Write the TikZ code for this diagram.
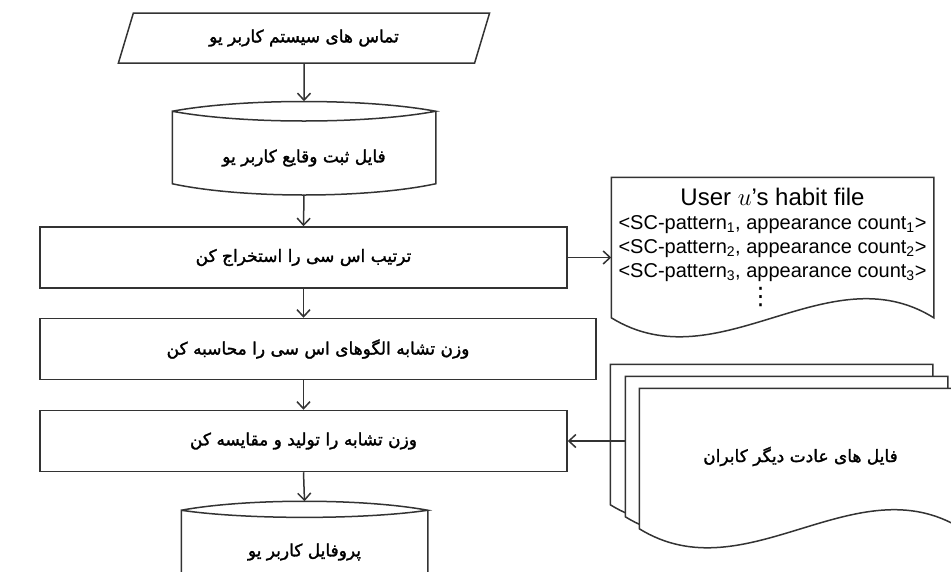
\documentclass[tikz,border=0pt]{standalone}
\usepackage{fontspec}
\setmainfont{Liberation Sans}
\newfontfamily\farsi[Script=Arabic,FakeBold=1.6]{DejaVu Sans}
\newfontfamily\symb{DejaVu Sans}
\TeXXeTstate=1
\usetikzlibrary{shapes,arrows.meta,positioning,calc,backgrounds}
\newcommand{\fa}[1]{{\farsi\beginR #1\endR}}
\newcommand{\docoutline}[1]{(#1.north west) -- (#1.south west)
  .. controls +(107,-66) and +(-106,66) .. (#1.south east)
  -- (#1.north east) -- cycle}

\begin{document}
\begin{tikzpicture}
[x=1pt,y=1pt,line width=1.5pt,
    ln/.style={draw=black!80,line width=1.5pt},
    proc/.style={ln,shape=rectangle,minimum height=61pt,inner sep=0pt,
    font=\fontsize{17}{20}\selectfont},
    store/.style={minimum width=262pt,minimum height=72pt,inner sep=0pt,
    font=\fontsize{17}{20}\selectfont},
    io/.style={ln,trapezium,trapezium left angle=64,trapezium right angle=116,
    trapezium stretches=true,minimum width=372pt,minimum height=50pt,
    inner sep=0pt,font=\fontsize{17}{20}\selectfont},
    docbox/.style={minimum width=321pt,minimum height=139pt,inner sep=0pt},
    myarrow/.style={ln,-{Straight Barb[length=7pt,width=13pt]}}]
\useasboundingbox (0,0) rectangle (951,-571);
%%%%%%%%%%
%% flow nodes
\node (contact) [io] at (304,-38) {\fa{تماس های سیستم کاربر یو}};
\node (log) [store] at (304,-158) {\fa{فایل ثبت وقایع کاربر یو}};
\node (extract) [proc,minimum width=527pt] at (303.5,-257.5)
  {\fa{ترتیب اس سی را استخراج کن}};
\node (weight) [proc,minimum width=556pt] at (318,-349)
  {\fa{وزن تشابه  الگوهای  اس سی را محاسبه کن}};
\node (compare) [proc,minimum width=527pt] at (303.5,-441)
  {\fa{وزن تشابه را تولید و مقایسه کن}};
\node (profile) [store,minimum width=245pt,minimum height=68pt] at (304.5,-552)
  {\fa{پروفایل کاربر یو}};
%% files
\node (habit) [docbox,align=center,font=\fontsize{20}{24}\selectfont]
  at (772.5,-247.5) {{\fontsize{24}{28}\selectfont User $u$’s habit file}\\
  <SC-pattern\textsubscript{1}, appearance count\textsubscript{1}>\\
  <SC-pattern\textsubscript{2}, appearance count\textsubscript{2}>\\
  <SC-pattern\textsubscript{3}, appearance count\textsubscript{3}>\\[3pt]
  {\symb\fontsize{24}{24}\selectfont ⋮}\hspace*{24pt}};
\node (other3) [docbox] at (771.5,-434.5) {};
\node (other2) [docbox] at (786.5,-446.5) {};
\node (others) [docbox,font=\fontsize{17}{20}\selectfont] at (800.5,-456.5)
  {\fa{فایل های عادت دیگر کابران}};
%% outlines
\draw[ln] ([yshift=10pt]log.north west) .. controls +(70,13) and +(-70,13) ..
  ([yshift=10pt]log.north east) .. controls +(-70,-13) and +(70,-13) ..
  ([yshift=10pt]log.north west) -- ([yshift=11pt]log.south west)
  .. controls +(70,-15) and +(-70,-15) .. ([yshift=11pt]log.south east)
  -- ([yshift=10pt]log.north east);
\draw[ln] ([yshift=7pt]profile.north west) .. controls +(65,12) and +(-65,12) ..
  ([yshift=7pt]profile.north east) .. controls +(-65,-9.5) and +(65,-9.5) ..
  ([yshift=7pt]profile.north west) -- ([yshift=11pt]profile.south west)
  .. controls +(65,-15) and +(-65,-15) .. ([yshift=11pt]profile.south east)
  -- ([yshift=7pt]profile.north east);
\draw[ln] \docoutline{habit};
\begin{scope}[on background layer]
\draw[ln,fill=white] \docoutline{other3};
\draw[ln,fill=white] \docoutline{other2};
\draw[ln,fill=white] ([yshift=-2pt]others.north west) -- ([yshift=-2pt]others.south west)
  .. controls +(107,-66) and +(-106,66) .. ([yshift=-2pt]others.south east)
  -- ([yshift=-2pt]others.north east) -- cycle;
\end{scope}
%% edges
\draw[myarrow] (contact.south) -- ([yshift=20pt]log.north);
\draw[myarrow] (log.south) -- (extract.north);
\draw[myarrow] (extract.south) -- (extract.south |- weight.north);
\draw[myarrow] (compare.north |- weight.south) -- (compare.north);
\draw[myarrow] (compare.south) -- ([yshift=16pt]profile.north);
\draw[myarrow] (extract.east) -- (extract.east -| habit.west);
\draw[myarrow] (other2.west |- compare.east) -- (compare.east);
\end{tikzpicture}
\end{document}
